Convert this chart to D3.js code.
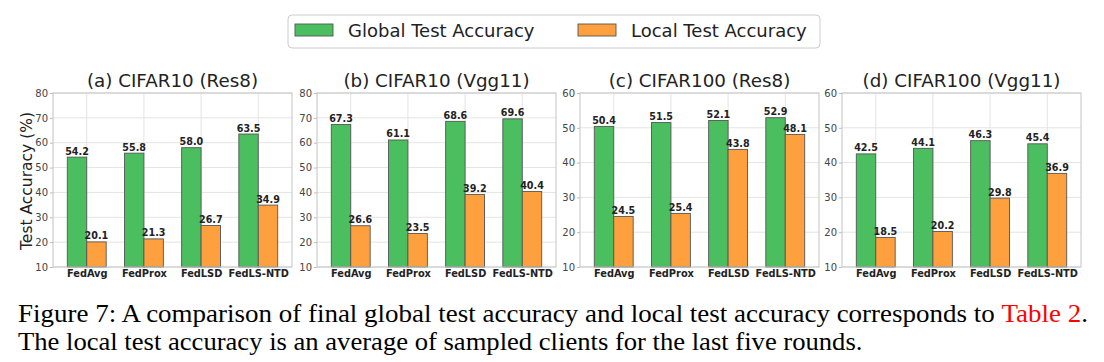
<!DOCTYPE html>
<html>
<head>
<meta charset="utf-8">
<script src="https://cdn.jsdelivr.net/npm/d3@7"></script>
<style>
html,body{margin:0;padding:0;background:#fff;}
svg{display:block;}
</style>
</head>
<body>
<svg id="chart" width="1104" height="362"></svg>
<script>
// ---- data ----
const categories = ["FedAvg", "FedProx", "FedLSD", "FedLS-NTD"];
const seriesNames = ["Global Test Accuracy", "Local Test Accuracy"];
const panelTitles = ["(a) CIFAR10 (Res8)", "(b) CIFAR10 (Vgg11)", "(c) CIFAR100 (Res8)", "(d) CIFAR100 (Vgg11)"];
const globalAcc = [
  [54.2, 55.8, 58.0, 63.5],
  [67.3, 61.1, 68.6, 69.6],
  [50.4, 51.5, 52.1, 52.9],
  [42.5, 44.1, 46.3, 45.4]
];
const localAcc = [
  [20.1, 21.3, 26.7, 34.9],
  [26.6, 23.5, 39.2, 40.4],
  [24.5, 25.4, 43.8, 48.1],
  [18.5, 20.2, 29.8, 36.9]
];
const yDomains = [[10, 80], [10, 80], [10, 60], [10, 60]];
const yTicks = [
  [10, 20, 30, 40, 50, 60, 70, 80],
  [10, 20, 30, 40, 50, 60, 70, 80],
  [10, 20, 30, 40, 50, 60],
  [10, 20, 30, 40, 50, 60]
];
const yLabel = "Test Accuracy (%)";
const captionLine1 = ["Figure 7: A comparison of final global test accuracy and local test accuracy corresponds to ", "Table 2", "."];
const captionLine2 = "The local test accuracy is an average of sampled clients for the last five rounds.";

// ---- style ----
const colors = ["#4bbf5f", "#ffa03f"];
const edge = "#555";
const font = "'DejaVu Sans', sans-serif";

const svg = d3.select("#chart");

const panelLeft = [53, 317, 580, 842];
const pw = 239, plotTop = 93, plotBottom = 267;
const barW = 0.34;

panelTitles.forEach((title, p) => {
  const g = svg.append("g");
  const x = d3.scaleLinear().domain([-0.59, 3.59]).range([panelLeft[p], panelLeft[p] + pw]);
  const y = d3.scaleLinear().domain(yDomains[p]).range([plotBottom, plotTop]);

  // grid
  g.selectAll(".hg").data(yTicks[p]).join("line")
    .attr("x1", panelLeft[p]).attr("x2", panelLeft[p] + pw)
    .attr("y1", d => y(d)).attr("y2", d => y(d))
    .attr("stroke", "#e4e4e4").attr("stroke-width", 1);
  g.selectAll(".vg").data(categories).join("line")
    .attr("x1", (d, i) => x(i)).attr("x2", (d, i) => x(i))
    .attr("y1", plotTop).attr("y2", plotBottom)
    .attr("stroke", "#e4e4e4").attr("stroke-width", 1);

  // y axis
  const yAxis = d3.axisLeft(y).tickValues(yTicks[p]).tickSize(3).tickPadding(2);
  const ya = g.append("g").attr("transform", `translate(${panelLeft[p]},0)`).call(yAxis);
  ya.select(".domain").remove();
  ya.selectAll(".tick line").attr("stroke", "#bbb");
  ya.selectAll(".tick text").attr("font-family", font).attr("font-size", 10).attr("fill", "#444");

  // x axis
  const xAxis = d3.axisBottom(x).tickValues([0, 1, 2, 3]).tickFormat(i => categories[i]).tickSize(0).tickPadding(3);
  const xa = g.append("g").attr("transform", `translate(0,${plotBottom})`).call(xAxis);
  xa.select(".domain").remove();
  xa.selectAll(".tick text").attr("font-family", font).attr("font-size", 9.8).attr("font-weight", "bold").attr("fill", "#222");

  // bars
  [globalAcc[p], localAcc[p]].forEach((vals, s) => {
    const off = s === 0 ? -barW : 0;
    g.selectAll(".bar" + s).data(vals).join("rect")
      .attr("x", (d, i) => x(i + off))
      .attr("width", x(barW) - x(0))
      .attr("y", d => y(d))
      .attr("height", d => y(yDomains[p][0]) - y(d))
      .attr("fill", colors[s]).attr("stroke", edge).attr("stroke-width", 0.9);
    g.selectAll(".lab" + s).data(vals).join("text")
      .attr("x", (d, i) => x(i + off + barW / 2))
      .attr("y", d => y(d) - 2.5)
      .attr("text-anchor", "middle")
      .attr("font-family", font).attr("font-size", 9.6).attr("font-weight", "bold").attr("fill", "#222")
      .text(d => d.toFixed(1));
  });

  // frame
  g.append("rect").attr("x", panelLeft[p]).attr("y", plotTop).attr("width", pw).attr("height", plotBottom - plotTop)
    .attr("fill", "none").attr("stroke", "#c4c4c4").attr("stroke-width", 1);

  // title
  g.append("text").attr("x", panelLeft[p] + pw / 2).attr("y", 87)
    .attr("text-anchor", "middle").attr("font-family", font).attr("font-size", 18.3).attr("fill", "#222")
    .text(title);
});

// y label
svg.append("text").attr("transform", `translate(32,${(plotTop + plotBottom) / 2 + 1}) rotate(-90)`)
  .attr("text-anchor", "middle").attr("font-family", font).attr("font-size", 15.5).attr("fill", "#222")
  .text(yLabel);

// legend
const lg = svg.append("g");
lg.append("rect").attr("x", 288).attr("y", 15).attr("width", 532).attr("height", 33).attr("rx", 4)
  .attr("fill", "#fff").attr("stroke", "#ccc").attr("stroke-width", 1);
const legX = [295, 578];
seriesNames.forEach((n, s) => {
  lg.append("rect").attr("x", legX[s]).attr("y", 24).attr("width", 38).attr("height", 12)
    .attr("fill", colors[s]).attr("stroke", edge).attr("stroke-width", 0.9);
  lg.append("text").attr("x", legX[s] + 53).attr("y", 37).attr("font-family", font).attr("font-size", 18).attr("fill", "#222").text(n);
});

// caption
const capFont = "'Liberation Serif', 'Times New Roman', serif";
function fitLine(t, targetW) {
  const w = t.node().getComputedTextLength();
  const sx = targetW / w;
  t.attr("transform", `translate(18,0) scale(${sx},1) translate(-18,0)`);
}
const c1 = svg.append("text").attr("x", 18).attr("y", 322).attr("font-family", capFont).attr("font-size", 26).attr("fill", "#000");
c1.append("tspan").text(captionLine1[0]);
c1.append("tspan").attr("fill", "#f00").text(captionLine1[1]);
c1.append("tspan").text(captionLine1[2]);
fitLine(c1, 1070);
const c2 = svg.append("text").attr("x", 18).attr("y", 350).attr("font-family", capFont).attr("font-size", 26).attr("fill", "#000").text(captionLine2);
fitLine(c2, 845);
</script>
</body>
</html>
